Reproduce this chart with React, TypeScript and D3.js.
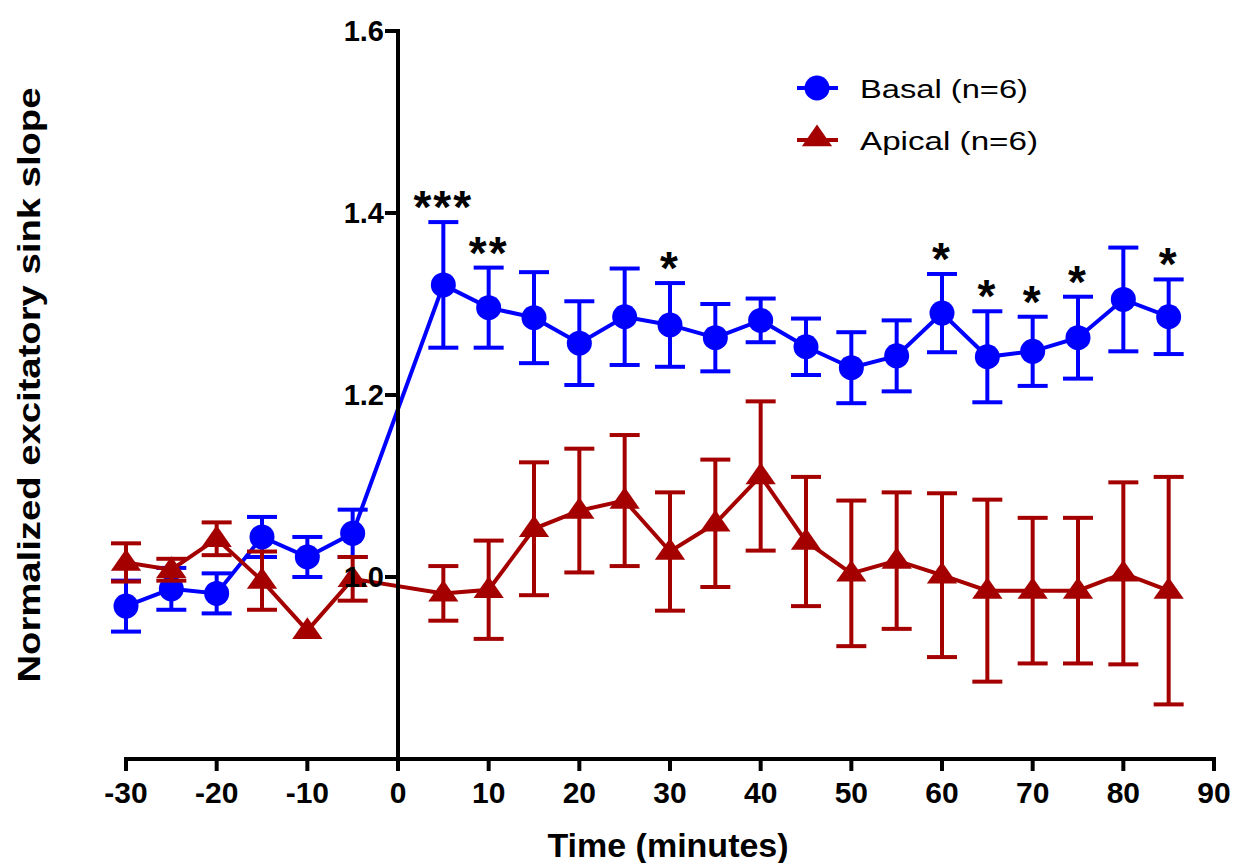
import React from "react";
import * as d3 from "d3";

const times = [-30, -25, -20, -15, -10, -5, 5, 10, 15, 20, 25, 30, 35, 40, 45, 50, 55, 60, 65, 70, 75, 80, 85];

const basalMean = [0.968, 0.987, 0.982, 1.044, 1.022, 1.048, 1.321, 1.296, 1.285, 1.257, 1.286, 1.277, 1.263, 1.282, 1.253, 1.230, 1.243, 1.290, 1.242, 1.248, 1.263, 1.305, 1.286];
const basalSem = [0.028, 0.023, 0.022, 0.022, 0.022, 0.026, 0.069, 0.044, 0.050, 0.046, 0.053, 0.046, 0.037, 0.024, 0.031, 0.039, 0.039, 0.043, 0.050, 0.038, 0.045, 0.057, 0.041];

const apicalMean = [1.016, 1.008, 1.042, 0.996, 0.941, 0.998, 0.982, 0.986, 1.053, 1.073, 1.084, 1.028, 1.059, 1.111, 1.039, 1.004, 1.018, 1.002, 0.985, 0.985, 0.985, 1.004, 0.985];
const apicalSem = [0.021, 0.012, 0.018, 0.032, 0.0, 0.024, 0.030, 0.054, 0.073, 0.068, 0.072, 0.065, 0.070, 0.082, 0.071, 0.080, 0.075, 0.090, 0.100, 0.080, 0.080, 0.100, 0.125];

const sigTimes = [5, 10, 30, 60, 65, 70, 75, 85];
const sigLabels = ["***", "**", "*", "*", "*", "*", "*", "*"];

const xTicks = [-30, -20, -10, 0, 10, 20, 30, 40, 50, 60, 70, 80, 90];
const yTicks = [1.0, 1.2, 1.4, 1.6];

const seriesNames = ["Basal (n=6)", "Apical (n=6)"];

const BLUE = "#0000ff";
const RED = "#a50000";
const FONT = "'Liberation Sans', Arial, sans-serif";

export default function App() {
  const x = d3.scaleLinear().domain([-30, 90]).range([126, 1214]);
  const y = d3.scaleLinear().domain([0.8, 1.6]).range([759, 31]);

  const basal = times.map((t, i) => ({ t, m: basalMean[i], e: basalSem[i] }));
  const apical = times.map((t, i) => ({ t, m: apicalMean[i], e: apicalSem[i] }));

  const line = d3
    .line<{ t: number; m: number }>()
    .x((d) => x(d.t))
    .y((d) => y(d.m));

  const capW = 15;
  const tri = d3.symbol().type(d3.symbolTriangle).size(300)();

  const errorBars = (data: { t: number; m: number; e: number }[], color: string) =>
    data
      .filter((d) => d.e > 0)
      .map((d, i) => {
        const cx = x(d.t);
        const top = y(d.m + d.e);
        const bot = y(d.m - d.e);
        return (
          <g key={i} stroke={color} strokeWidth={4}>
            <line x1={cx} x2={cx} y1={top} y2={bot} />
            <line x1={cx - capW} x2={cx + capW} y1={top} y2={top} />
            <line x1={cx - capW} x2={cx + capW} y1={bot} y2={bot} />
          </g>
        );
      });

  return (
    <svg
      width={1234}
      height={863}
      style={{ position: "absolute", left: 0, top: 0, background: "#fff" }}
      fontFamily={FONT}
    >
      {/* Basal series */}
      <path d={line(basal) || ""} fill="none" stroke={BLUE} strokeWidth={4} />
      {errorBars(basal, BLUE)}
      {basal.map((d, i) => (
        <circle key={i} cx={x(d.t)} cy={y(d.m)} r={12.5} fill={BLUE} />
      ))}

      {/* Apical series */}
      <path d={line(apical) || ""} fill="none" stroke={RED} strokeWidth={4} />
      {errorBars(apical, RED)}
      {apical.map((d, i) => (
        <path
          key={i}
          d={tri || ""}
          transform={`translate(${x(d.t)},${y(d.m) + 1}) scale(1.15,0.95)`}
          fill={RED}
        />
      ))}

      {/* Significance marks */}
      {sigTimes.map((t, i) => {
        const idx = times.indexOf(t);
        const top = y(basalMean[idx] + basalSem[idx]);
        return (
          <text
            key={i}
            x={x(t)}
            y={top + 1}
            textAnchor="middle"
            fontSize={46}
            fontWeight="bold"
            letterSpacing={2}
            fill="#000"
          >
            {sigLabels[i]}
          </text>
        );
      })}

      {/* X axis */}
      <g stroke="#000" strokeWidth={4}>
        <line x1={x(-30) - 2} x2={x(90) + 2} y1={y(0.8)} y2={y(0.8)} />
        {xTicks.map((t) => (
          <line key={t} x1={x(t)} x2={x(t)} y1={y(0.8)} y2={y(0.8) + 12} />
        ))}
      </g>
      {xTicks.map((t) => (
        <text
          key={t}
          x={x(t)}
          y={803}
          textAnchor="middle"
          fontSize={30}
          fontWeight="bold"
          fill="#000"
        >
          {t}
        </text>
      ))}
      <text x={668} y={857} textAnchor="middle" fontSize={34} fontWeight="bold" fill="#000">
        Time (minutes)
      </text>

      {/* Y axis */}
      <g stroke="#000" strokeWidth={4}>
        <line x1={x(0)} x2={x(0)} y1={y(1.6) - 2} y2={y(0.8) + 2} />
        {yTicks.map((v) => (
          <line key={v} x1={x(0) - 13} x2={x(0)} y1={y(v)} y2={y(v)} />
        ))}
      </g>
      {yTicks.map((v) => (
        <text
          key={v}
          x={384}
          y={y(v) + 10}
          textAnchor="end"
          fontSize={29}
          fontWeight="bold"
          fill="#000"
        >
          {v.toFixed(1)}
        </text>
      ))}
      <text
        transform={`translate(40,${385}) rotate(-90)`}
        textAnchor="middle"
        fontSize={31}
        fontWeight="bold"
        fill="#000"
        textLength={595}
        lengthAdjust="spacingAndGlyphs"
      >
        Normalized excitatory sink slope
      </text>

      {/* Legend */}
      <g>
        <line x1={797} x2={838} y1={88} y2={88} stroke={BLUE} strokeWidth={4} />
        <circle cx={817} cy={88} r={12.5} fill={BLUE} />
        <text x={860} y={98} fontSize={26} fill="#000" textLength={168} lengthAdjust="spacingAndGlyphs">
          {seriesNames[0]}
        </text>
        <line x1={797} x2={838} y1={140} y2={140} stroke={RED} strokeWidth={4} />
        <path d={tri || ""} transform="translate(817,139) scale(1.15,0.95)" fill={RED} />
        <text x={860} y={150} fontSize={26} fill="#000" textLength={178} lengthAdjust="spacingAndGlyphs">
          {seriesNames[1]}
        </text>
      </g>
    </svg>
  );
}
